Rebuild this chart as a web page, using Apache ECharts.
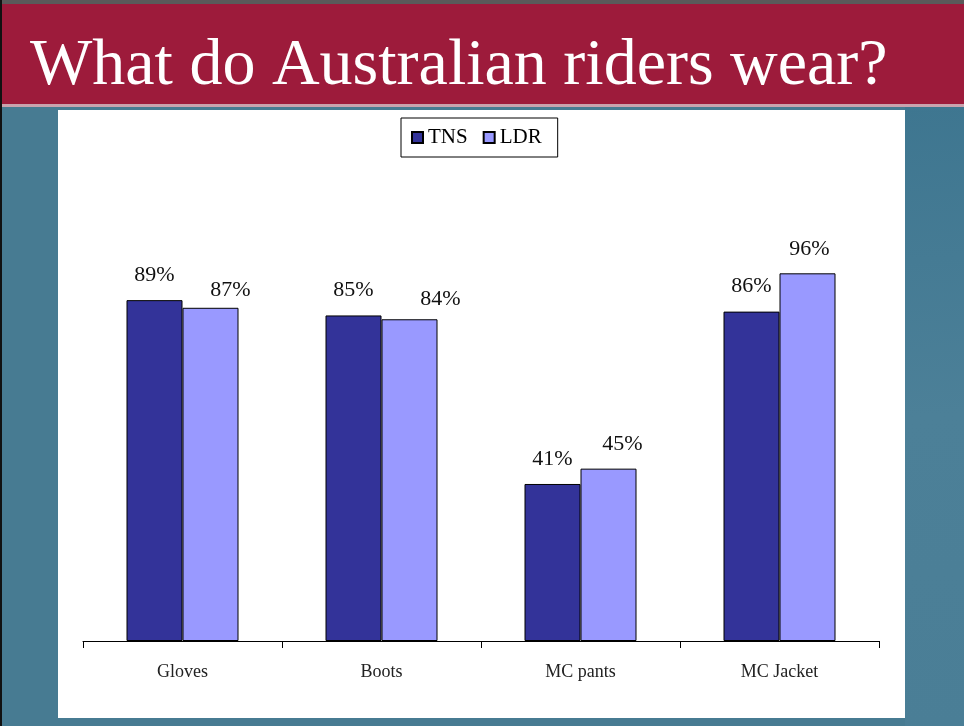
<!DOCTYPE html>
<html>
<head>
<meta charset="utf-8">
<script src="https://cdn.jsdelivr.net/npm/echarts@6/dist/echarts.min.js"></script>
<style>
html,body{margin:0;padding:0;background:#477B92;}
#chart{width:964px;height:726px;}
</style>
</head>
<body>
<div id="chart"></div>
<script>
var categories = ['Gloves', 'Boots', 'MC pants', 'MC Jacket'];
var seriesNames = ['TNS', 'LDR'];
var tnsValues = [89, 85, 41, 86];
var ldrValues = [87, 84, 45, 96];
var titleText = 'What do Australian riders wear?';

// label nudges (style only) for the LDR labels as placed in the original
var ldrLabelNudge = [[20, 7], [31, 5], [14, 1], [2, 1]];

var serif = '"Liberation Serif", "Times New Roman", serif';

var chart = echarts.init(document.getElementById('chart'), null, {renderer: 'canvas'});

var ldrData = ldrValues.map(function (v, i) {
  return { value: v, label: { offset: ldrLabelNudge[i] } };
});

var option = {
  animation: false,
  backgroundColor: '#477B92',
  graphic: [
    { type: 'rect', z: -10, shape: { x: 0, y: 0, width: 964, height: 726 }, style: { fill: '#477B92' } },
    { type: 'rect', z: -9, shape: { x: 905, y: 105, width: 59, height: 621 },
      style: { fill: new echarts.graphic.LinearGradient(0, 0, 1, 1, [
        { offset: 0, color: '#3E7690' }, { offset: 0.5, color: '#4C8098' }, { offset: 1, color: '#4A7E96' }]) } },
    { type: 'rect', z: -8, shape: { x: 0, y: 0, width: 964, height: 105 }, style: { fill: '#9D1B3B' } },
    { type: 'rect', z: -7, shape: { x: 0, y: 0, width: 964, height: 4 }, style: { fill: '#5a5a5a' } },
    { type: 'rect', z: -7, shape: { x: 0, y: 104, width: 964, height: 3 }, style: { fill: '#C9A3AE' } },
    { type: 'rect', z: -7, shape: { x: 0, y: 0, width: 2, height: 726 }, style: { fill: '#111' } },
    { type: 'rect', z: -6, shape: { x: 58, y: 110, width: 847, height: 608 }, style: { fill: '#ffffff' } },
    { type: 'text', z: 10, x: 30, y: 67,
      style: { text: titleText, fill: '#ffffff', font: '66px ' + serif, textAlign: 'left', textVerticalAlign: 'middle' } }
  ],
  legend: {
    data: seriesNames,
    left: 401,
    top: 118,
    padding: [9, 16, 9, 10],
    itemWidth: 11,
    itemHeight: 11,
    itemGap: 15,
    backgroundColor: '#ffffff',
    borderColor: '#000000',
    borderWidth: 1,
    icon: 'rect',
    textStyle: { fontFamily: serif, fontSize: 21, color: '#000' }
  },
  grid: { left: 83, right: 85, top: 258, bottom: 85, containLabel: false },
  xAxis: {
    type: 'category',
    data: categories,
    axisLine: { lineStyle: { color: '#000', width: 1 } },
    axisTick: { show: true, length: 7, lineStyle: { color: '#000' }, alignWithLabel: false },
    axisLabel: { fontFamily: serif, fontSize: 18, color: '#222', margin: 22 }
  },
  yAxis: {
    type: 'value',
    min: 0,
    max: 100,
    show: false,
    splitLine: { show: false }
  },
  series: [
    {
      name: seriesNames[0],
      type: 'bar',
      data: tnsValues,
      barWidth: 56,
      barGap: '0%',
      itemStyle: { color: '#333399', borderColor: '#000', borderWidth: 1 },
      label: { show: true, position: 'top', distance: 14, formatter: '{c}%', fontFamily: serif, fontSize: 22, color: '#111' }
    },
    {
      name: seriesNames[1],
      type: 'bar',
      data: ldrData,
      barWidth: 56,
      barGap: '0%',
      itemStyle: { color: '#9999FF', borderColor: '#000', borderWidth: 1 },
      label: { show: true, position: 'top', distance: 14, formatter: '{c}%', fontFamily: serif, fontSize: 22, color: '#111' }
    }
  ]
};
chart.setOption(option);
</script>
</body>
</html>
